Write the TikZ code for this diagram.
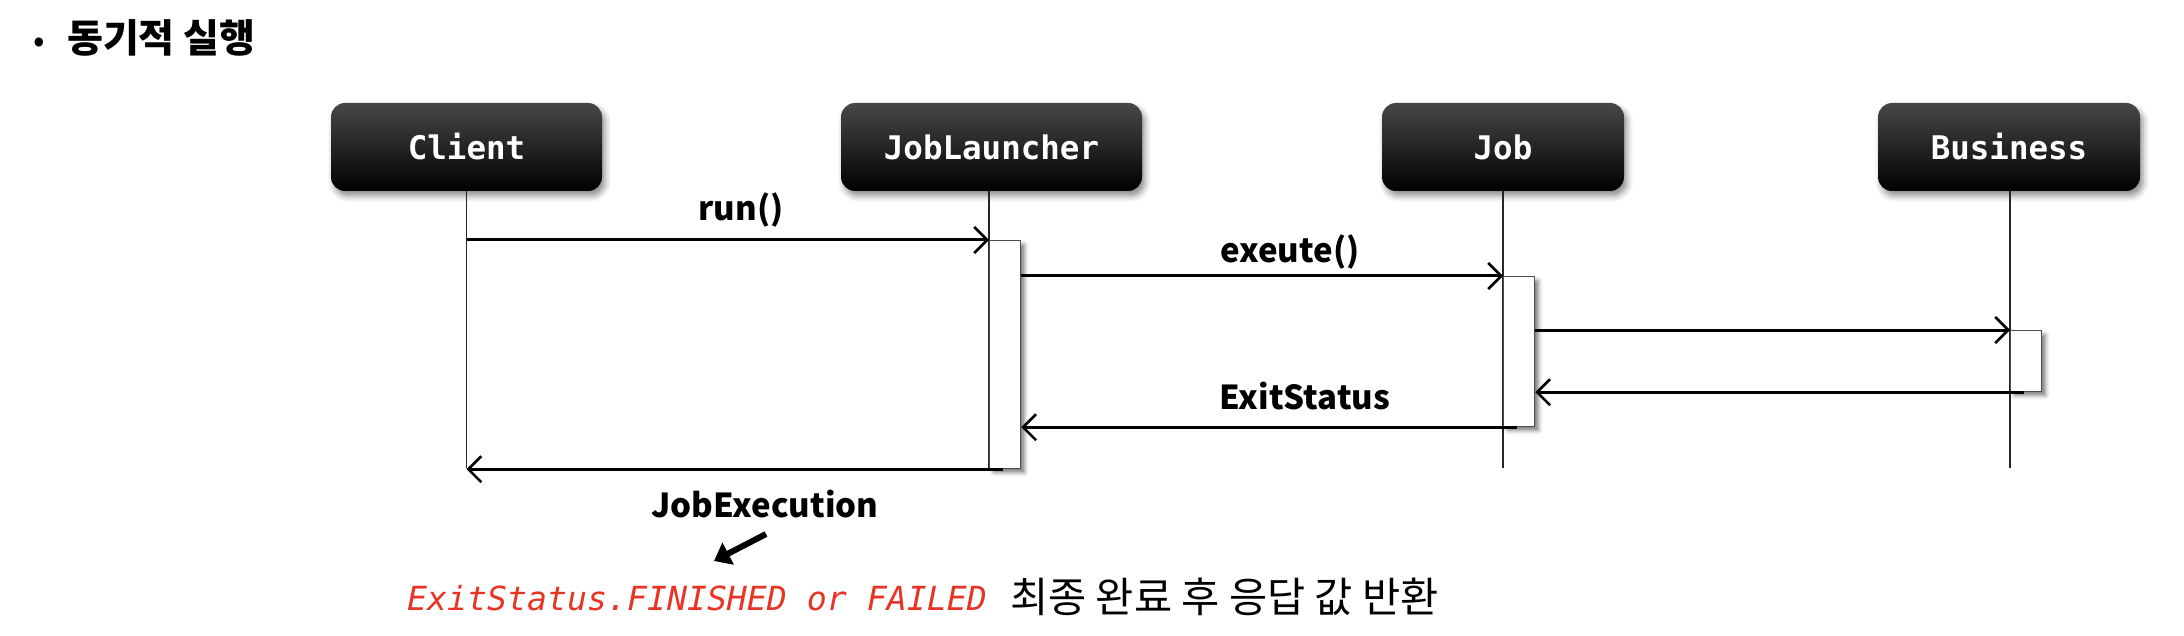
\documentclass[tikz,border=0pt]{standalone}
\usepackage{fontspec}
\setmainfont{Noto Sans CJK KR}
\newfontfamily\krfont{Noto Sans CJK KR}
\newfontfamily\monofont{DejaVu Sans Mono}
\usetikzlibrary{arrows.meta,shadows.blur}
\definecolor{redtxt}{RGB}{232,52,36}
\begin{document}
\begin{tikzpicture}[x=1pt,y=-1pt,
  actor/.style={rounded corners=14pt, top color=black!72, middle color=black, bottom color=black,
    text=white, font=\monofont\bfseries\fontsize{32.5}{32.5}\selectfont,
    minimum height=88pt, inner sep=0pt,
    blur shadow={shadow xshift=3pt, shadow yshift=-5pt, shadow blur radius=6pt, shadow opacity=45}},
  act/.style={draw=black!70, line width=1.2pt, fill=white, minimum width=31pt, inner sep=0pt,
    blur shadow={shadow xshift=4pt, shadow yshift=-4pt, shadow blur radius=4pt, shadow opacity=50}},
  life/.style={line width=1.3pt, draw=black!85},
  msg/.style={line width=3pt, -{Straight Barb[length=13pt,width=26pt,line width=2.6pt]}},
  lbl/.style={font=\bfseries\fontsize{33}{33}\selectfont, anchor=base, inner sep=0pt},
]
\useasboundingbox (0,0) rectangle (2184,636);
% title
\node[anchor=base, inner sep=0pt, font=\fontsize{34}{34}\selectfont] (bul) at (39,53) {•};
\node[anchor=base west, inner sep=0pt, font=\bfseries\fontsize{39}{39}\selectfont] (title) at (67,53) {동기적 실행};
% actors
\node[actor, minimum width=271pt] (client) at (466.5,147) {Client};
\node[actor, minimum width=301pt] (jl) at (991.5,147) {JobLauncher};
\node[actor, minimum width=242pt] (job) at (1503,147) {Job};
\node[actor, minimum width=262pt] (bus) at (2009,147) {Business};
% lifeline ends
\coordinate (ce) at (466.5,468);
\coordinate (je) at (989,468);
\coordinate (jbe) at (1503,468);
\coordinate (be) at (2010,468);
\draw[life] (client.south) -- (ce);
\draw[life] (jl.south -| je) -- (je);
\draw[life] (job.south) -- (jbe);
\draw[life] (bus.south -| be) -- (be);
% activations
\node[act, minimum height=228pt, anchor=north west] (a1) at (989,240) {};
\node[act, minimum height=150pt, anchor=north west] (a2) at (1503,276) {};
\node[act, minimum height=61pt, anchor=north west] (a3) at (2010,330) {};
% messages
\draw[msg] (client.south |- a1.north) -- (a1.north west);
\draw[msg] (a1.east |- a2.north) -- (a2.north west);
\draw[msg] (a2.east |- a3.north) -- (a3.north west);
\draw[msg] ([xshift=-2pt]a3.south) -- (a2.east |- a3.south);
\draw[msg] ([xshift=-2pt]a2.south) -- (a1.east |- a2.south);
\draw[msg] ([xshift=-2pt]a1.south) -- (client.south |- a1.south);
% labels
\node[lbl] (lrun) at (741,221) {run()};
\node[lbl] (lexe) at (1290,263) {exeute()};
\node[lbl] (lexit) at (1305,409) {ExitStatus};
\node[lbl] (ljob) at (765,517) {JobExecution};
% bottom note
\node[anchor=base west, inner sep=0pt, text=redtxt, font=\monofont\itshape\fontsize{33.2}{33.2}\selectfont] (red) at (407,610) {ExitStatus.FINISHED or FAILED};
\node[anchor=base west, inner sep=0pt, font=\fontsize{41.5}{41.5}\selectfont] (kor) at (1010,612) {최종 완료 후 응답 값 반환};
\coordinate (p1) at (766,534);
\coordinate (p2) at (714,561);
\draw[line width=6pt, -{Triangle[length=16pt,width=24pt]}] (p1) -- (p2);
\end{tikzpicture}
\end{document}
